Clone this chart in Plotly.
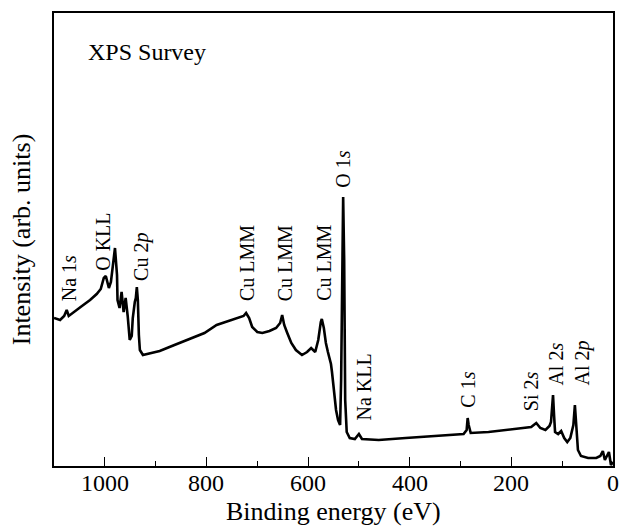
import plotly.graph_objects as go

# Binding energy (eV) and intensity (arb. units)
energy = [1100, 1088, 1080, 1075, 1071, 1059, 1045, 1029, 1016, 1008, 1002, 998, 992, 988,
          984, 980, 976, 975, 971, 967, 963, 959, 955, 951, 947, 945, 941, 939, 937, 935,
          933, 931, 925, 916, 892, 863, 833, 804, 780, 755, 735, 727, 722, 716, 710, 700,
          690, 676, 663, 655, 651, 647, 641, 633, 624, 612, 602, 594, 586, 580, 575, 573,
          569, 565, 561, 557, 555, 553, 549, 545, 541, 537, 535, 533, 531, 529, 527, 524,
          518, 508, 500, 494, 461, 408, 343, 294, 288, 286, 284, 280, 245, 212, 176, 161,
          151, 143, 133, 125, 122, 120, 118, 116, 114, 108, 102, 96, 90, 84, 78, 75, 73,
          69, 63, 49, 33, 25, 20, 16, 12, 8, 4, 0]
intensity = [148, 146, 150, 156, 150, 155, 160, 166, 172, 177, 188, 190, 178, 184,
             204, 218, 191, 166, 158, 174, 154, 168, 150, 126, 130, 148, 164, 168, 179, 166,
             131, 116, 111, 112, 115, 121, 127, 133, 141, 145, 148, 150, 153, 148, 139, 134,
             133, 135, 138, 143, 151, 141, 133, 123, 116, 111, 114, 118, 114, 126, 144, 147,
             138, 123, 114, 106, 102, 94, 73, 56, 46, 41, 86, 216, 269, 206, 66, 34,
             28, 27, 32, 27, 26, 28, 30, 32, 36, 48, 41, 33, 34, 36, 38, 39,
             43, 38, 36, 40, 44, 56, 71, 51, 34, 32, 35, 28, 24, 28, 41, 61, 46,
             16, 10, 8, 8, 10, 15, 6, 10, 14, 1, 4]

# Peak labels: text, energy position, intensity at label base
label_text = ["Na 1<i>s</i>", "O KLL", "Cu 2<i>p</i>", "Cu LMM", "Cu LMM", "Cu LMM",
              "O 1<i>s</i>", "Na KLL", "C 1<i>s</i>", "Si 2<i>s</i>", "Al 2<i>s</i>", "Al 2<i>p</i>"]
label_energy = [1070, 1004, 929, 720, 645, 569, 533, 490, 286, 161, 114, 61]
label_base = [163, 193, 183, 163, 163, 163, 276, 44, 56, 53, 78, 78]

x_ticks = [0, 200, 400, 600, 800, 1000]
x_ticklabels = ["0", "200", "400", "600", "800", "1000"]

FONT = "Liberation Serif"

fig = go.Figure()
fig.add_trace(go.Scatter(x=energy, y=intensity, mode="lines",
                         line=dict(color="black", width=2.6), showlegend=False))

for t, e, b in zip(label_text, label_energy, label_base):
    fig.add_annotation(x=e, y=b, text=t, textangle=-90, showarrow=False,
                       xanchor="center", yanchor="bottom",
                       font=dict(family=FONT, size=20, color="black"))

fig.add_annotation(x=0.058, y=0.914, xref="paper", yref="paper", text="XPS Survey",
                   showarrow=False, xanchor="left", yanchor="middle",
                   font=dict(family=FONT, size=24, color="black"))

# x tick labels, placed at the tick values
for v, s in zip(x_ticks, x_ticklabels):
    fig.add_annotation(x=v, y=-0.0375, xref="x", yref="paper", text=s,
                       showarrow=False, xanchor="center", yanchor="middle",
                       font=dict(family=FONT, size=24, color="black"))

# x-axis title
fig.add_annotation(x=0.5, y=-0.1015, xref="paper", yref="paper", text="Binding energy (eV)",
                   showarrow=False, xanchor="center", yanchor="middle",
                   font=dict(family=FONT, size=26, color="black"))

fig.update_xaxes(range=[1100, 0], tickvals=x_ticks, showticklabels=False,
                 ticks="inside", ticklen=9, tickwidth=1.3, tickcolor="black",
                 minor=dict(dtick=100, ticks="inside", ticklen=5, tickwidth=1.3, tickcolor="black"),
                 showline=True, linecolor="black", linewidth=1.5, mirror=True,
                 showgrid=False, zeroline=False)
fig.update_yaxes(range=[0, 453], showticklabels=False, ticks="",
                 showline=True, linecolor="black", linewidth=1.5, mirror=True,
                 showgrid=False, zeroline=False,
                 title=dict(text="Intensity (arb. units)", font=dict(family=FONT, size=26, color="black"),
                            standoff=14))

fig.update_layout(width=624, height=529, margin=dict(l=54, r=9, t=13, b=63),
                  plot_bgcolor="white", paper_bgcolor="white")

fig.write_html("out.html")
